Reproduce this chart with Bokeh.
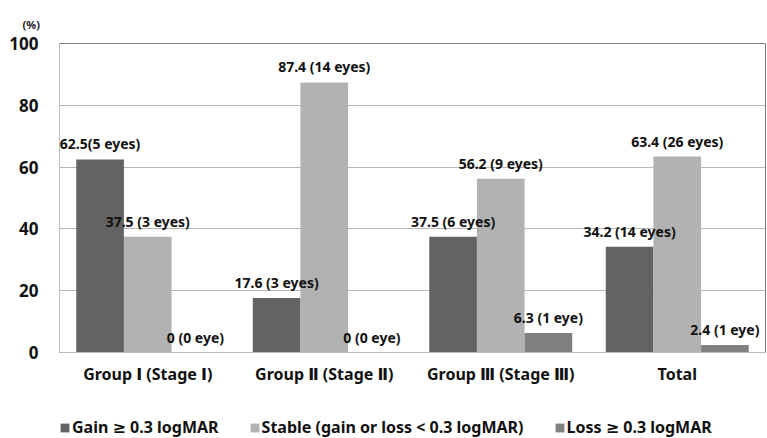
from bokeh.plotting import figure
from bokeh.models import (ColumnDataSource, FactorRange, LabelSet, Legend, Title,
                          LegendItem, FixedTicker)
from bokeh.layouts import column
from bokeh.transform import dodge
from bokeh.core.properties import value
from bokeh.embed import file_html
from bokeh.resources import INLINE

categories = ["Group Ⅰ (Stage Ⅰ)", "Group Ⅱ (Stage Ⅱ)", "Group Ⅲ (Stage Ⅲ)", "Total"]
gain = [62.5, 17.6, 37.5, 34.2]
stable = [37.5, 87.4, 56.2, 63.4]
loss = [0.0, 0.0, 6.3, 2.4]
gain_labels = ["62.5(5 eyes)", "17.6 (3 eyes)", "37.5 (6 eyes)", "34.2 (14 eyes)"]
stable_labels = ["37.5 (3 eyes)", "87.4 (14 eyes)", "56.2 (9 eyes)", "63.4 (26 eyes)"]
loss_labels = ["0 (0 eye)", "0 (0 eye)", "6.3 (1 eye)", "2.4 (1 eye)"]
series_names = ["Gain ≥ 0.3 logMAR", "Stable (gain or loss < 0.3 logMAR)", "Loss ≥ 0.3 logMAR"]
y_ticks = [0, 20, 40, 60, 80, 100]

FONT = "Noto Sans, DejaVu Sans, Noto Sans CJK KR"
colors = ["#636363", "#b2b2b2", "#808080"]
bw = 0.27

src = ColumnDataSource(dict(cat=categories, gain=gain, stable=stable, loss=loss,
                            gl=gain_labels, sl=stable_labels, ll=loss_labels))

p = figure(width=767, height=400, x_range=FactorRange(*categories, range_padding=0),
           y_range=(0, 100), output_backend="svg", toolbar_location=None,
           min_border_left=59, min_border_right=2, min_border_top=43, min_border_bottom=48)

for field, off, col in zip(["gain", "stable", "loss"], [-bw, 0, bw], colors):
    p.vbar(x=dodge("cat", off, range=p.x_range), top=field, width=bw, source=src,
           fill_color=col, line_color=None)

for lab, top, off in zip(["gl", "sl", "ll"], ["gain", "stable", "loss"], [-bw, 0, bw]):
    ls = LabelSet(x=dodge("cat", off, range=p.x_range), y=top, text=lab, source=src,
                  text_align="center", text_baseline="bottom", y_offset=6,
                  text_font=value(FONT), text_font_style="bold", text_font_size="14px",
                  text_color="#111111")
    p.add_layout(ls)

p.yaxis.ticker = FixedTicker(ticks=y_ticks)
p.yaxis.major_label_text_font = FONT
p.yaxis.major_label_text_font_style = "bold"
p.yaxis.major_label_text_font_size = "17px"
p.yaxis.major_label_text_color = "#111111"
p.yaxis.major_label_standoff = 15
p.yaxis.major_tick_line_color = None
p.yaxis.minor_tick_line_color = None
p.yaxis.axis_line_color = "#bdbdbd"

p.xaxis.major_label_text_font = FONT
p.xaxis.major_label_text_font_style = "bold"
p.xaxis.major_label_text_font_size = "16px"
p.xaxis.major_label_text_color = "#111111"
p.xaxis.major_label_standoff = 4
p.xaxis.major_tick_line_color = None
p.xaxis.axis_line_color = "#bdbdbd"

p.xgrid.grid_line_color = None
p.ygrid.grid_line_color = "#b8b8b8"
p.ygrid.ticker = FixedTicker(ticks=y_ticks)
p.outline_line_color = "#7a7a7a"

p.add_layout(Title(text="(%)", align="left", offset=-37, standoff=24,
                   text_font=FONT, text_font_size="11px", text_font_style="bold",
                   text_color="#222222"), "above")

# legend strip below the chart (zero-height bars serve only as legend swatches)
lf = figure(width=767, height=38, x_range=(0, 1), y_range=(0, 1),
            output_backend="svg", toolbar_location=None,
            x_axis_type=None, y_axis_type=None,
            min_border_left=0, min_border_right=0, min_border_top=0, min_border_bottom=0)
lf.outline_line_color = None
lf.xgrid.grid_line_color = None
lf.ygrid.grid_line_color = None
items = []
for n, col in zip(series_names, colors):
    r = lf.vbar(x=[0.5], top=[0], bottom=[0], width=0, fill_color=col, line_color=None)
    items.append(LegendItem(label=n, renderers=[r]))
legend = Legend(items=items, orientation="horizontal", location=(0, 0),
                glyph_width=11, glyph_height=11, label_standoff=2, spacing=30,
                padding=0, margin=0, border_line_color=None, background_fill_alpha=0,
                label_text_font=FONT, label_text_font_style="bold",
                label_text_font_size="16px", label_text_color="#111111")
lf.add_layout(legend)

open("out.html", "w").write(file_html(column(p, lf, spacing=0), INLINE))
